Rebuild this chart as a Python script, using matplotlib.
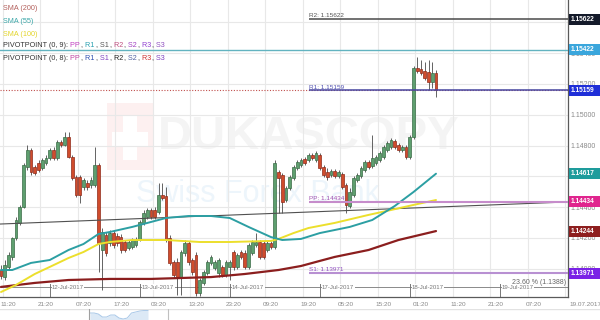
import matplotlib
matplotlib.use("Agg")
import matplotlib.pyplot as plt
from matplotlib.patches import Rectangle
import numpy as np

plt.rcParams['font.family'] = ['Liberation Sans', 'DejaVu Sans']

# ---------------- data (EUR/USD hourly candles) ----------------
opens = [1.13991, 1.13945, 1.14011, 1.14076, 1.14199, 1.14297, 1.14401, 1.14661, 1.14771, 1.14661,
         1.14687, 1.14654, 1.14687, 1.14719, 1.14771, 1.14719, 1.14823, 1.14804, 1.14856, 1.14726,
         1.14596, 1.14596, 1.14531, 1.14557, 1.14544, 1.14544, 1.14674, 1.14121, 1.14218, 1.14167,
         1.14231, 1.14212, 1.14205, 1.14173, 1.14134, 1.14141, 1.14154, 1.14186, 1.14297, 1.14336,
         1.14381, 1.14381, 1.14368, 1.14479, 1.14472, 1.14199, 1.14043, 1.14043, 1.13945, 1.14102,
         1.14167, 1.14056, 1.14089, 1.13841, 1.13907, 1.13971, 1.14037, 1.14004, 1.13971, 1.14011,
         1.13958, 1.14011, 1.14108, 1.14011, 1.14108, 1.14102, 1.14011, 1.14102, 1.14154, 1.14173,
         1.14167, 1.14121, 1.14167, 1.14141, 1.14628, 1.14609, 1.14446, 1.14524, 1.14589, 1.14654,
         1.14674, 1.14713, 1.14706, 1.14739, 1.14706, 1.14739, 1.14661, 1.14628, 1.14609, 1.14635,
         1.14602, 1.14615, 1.14544, 1.14407, 1.14479, 1.14576, 1.14602, 1.14641, 1.14693, 1.14667,
         1.14687, 1.14706, 1.14726, 1.14771, 1.14791, 1.14830, 1.14804, 1.14771, 1.14791, 1.14726,
         1.14856, 1.15304, 1.15298, 1.15285, 1.15278, 1.15213, 1.15272]
highs = [1.14024, 1.14056, 1.14108, 1.14205, 1.14336, 1.14414, 1.14687, 1.14804, 1.14784, 1.14674,
         1.14706, 1.14719, 1.14739, 1.14784, 1.14791, 1.14836, 1.14836, 1.14888, 1.14888, 1.14739,
         1.14609, 1.14609, 1.14589, 1.14576, 1.14596, 1.14791, 1.14687, 1.14264, 1.14238, 1.14251,
         1.14251, 1.14231, 1.14225, 1.14186, 1.14186, 1.14199, 1.14205, 1.14316, 1.14381, 1.14394,
         1.14394, 1.14401, 1.14557, 1.14557, 1.14531, 1.14218, 1.14056, 1.14069, 1.14121, 1.14186,
         1.14180, 1.14069, 1.14108, 1.13939, 1.13991, 1.14056, 1.14089, 1.14056, 1.14069, 1.14024,
         1.14056, 1.14056, 1.14121, 1.14102, 1.14121, 1.14121, 1.14167, 1.14186, 1.14231, 1.14186,
         1.14180, 1.14180, 1.14180, 1.14706, 1.14641, 1.14622, 1.14537, 1.14609, 1.14674, 1.14706,
         1.14719, 1.14726, 1.14752, 1.14752, 1.14765, 1.14752, 1.14674, 1.14654, 1.14648, 1.14648,
         1.14641, 1.14628, 1.14557, 1.14524, 1.14602, 1.14622, 1.14667, 1.14706, 1.14706, 1.14869,
         1.14739, 1.14765, 1.14804, 1.14830, 1.14849, 1.14843, 1.14817, 1.14804, 1.14804, 1.14869,
         1.15317, 1.15376, 1.15356, 1.15343, 1.15356, 1.15343, 1.15291]
lows = [1.13933, 1.13926, 1.13991, 1.14056, 1.14186, 1.14284, 1.14394, 1.14641, 1.14609, 1.14609,
        1.14628, 1.14641, 1.14674, 1.14706, 1.14706, 1.14706, 1.14791, 1.14797, 1.14719, 1.14576,
        1.14466, 1.14427, 1.14511, 1.14511, 1.14524, 1.14531, 1.13978, 1.13861, 1.14082, 1.14147,
        1.14134, 1.14147, 1.14102, 1.14108, 1.14121, 1.14128, 1.14141, 1.14180, 1.14284, 1.14323,
        1.14323, 1.14323, 1.14355, 1.14446, 1.14173, 1.14024, 1.13939, 1.13829, 1.13829, 1.14082,
        1.14024, 1.13958, 1.13822, 1.13822, 1.13894, 1.13958, 1.14024, 1.13991, 1.13945, 1.13945,
        1.13945, 1.13926, 1.13991, 1.13998, 1.14063, 1.13998, 1.13998, 1.14089, 1.14141, 1.14063,
        1.14063, 1.14108, 1.14128, 1.14128, 1.14362, 1.14362, 1.14433, 1.14511, 1.14576, 1.14641,
        1.14661, 1.14674, 1.14693, 1.14706, 1.14693, 1.14641, 1.14596, 1.14576, 1.14596, 1.14589,
        1.14589, 1.14518, 1.14362, 1.14394, 1.14466, 1.14563, 1.14589, 1.14628, 1.14648, 1.14654,
        1.14674, 1.14693, 1.14713, 1.14758, 1.14778, 1.14778, 1.14758, 1.14758, 1.14713, 1.14713,
        1.14843, 1.15272, 1.15259, 1.15226, 1.15161, 1.15174, 1.15116]
closes = [1.13952, 1.14024, 1.14089, 1.14199, 1.14316, 1.14401, 1.14674, 1.14771, 1.14628, 1.14622,
          1.14641, 1.14706, 1.14719, 1.14771, 1.14719, 1.14823, 1.14804, 1.14856, 1.14726, 1.14589,
          1.14479, 1.14479, 1.14576, 1.14531, 1.14576, 1.14674, 1.14167, 1.14238, 1.14102, 1.14231,
          1.14154, 1.14167, 1.14121, 1.14121, 1.14173, 1.14186, 1.14186, 1.14303, 1.14362, 1.14381,
          1.14336, 1.14336, 1.14479, 1.14459, 1.14186, 1.14037, 1.13958, 1.13945, 1.14108, 1.14167,
          1.14043, 1.13978, 1.13841, 1.13926, 1.13978, 1.14043, 1.14076, 1.14043, 1.14056, 1.13958,
          1.14043, 1.14043, 1.14011, 1.14089, 1.14076, 1.14011, 1.14154, 1.14173, 1.14173, 1.14076,
          1.14076, 1.14167, 1.14141, 1.14687, 1.14589, 1.14433, 1.14524, 1.14596, 1.14661, 1.14693,
          1.14706, 1.14687, 1.14739, 1.14719, 1.14752, 1.14654, 1.14609, 1.14596, 1.14635, 1.14602,
          1.14628, 1.14531, 1.14414, 1.14498, 1.14589, 1.14609, 1.14654, 1.14693, 1.14661, 1.14719,
          1.14726, 1.14752, 1.14791, 1.14817, 1.14836, 1.14791, 1.14771, 1.14791, 1.14726, 1.14856,
          1.15304, 1.15285, 1.15272, 1.15239, 1.15213, 1.15272, 1.15159]

sma55_idx = [0, 3, 8, 13, 18, 22, 26, 29, 35, 44, 50, 56, 61, 66, 72, 75, 80, 85, 93, 99, 105, 110, 116]
sma55_val = [1.13991, 1.13991, 1.14037, 1.14056, 1.14121, 1.14160, 1.14225, 1.14238, 1.14271, 1.14329,
             1.14342, 1.14342, 1.14329, 1.14271, 1.14205, 1.14186, 1.14193, 1.14231, 1.14271, 1.14316,
             1.14407, 1.14498, 1.14617]
sma100_idx = [0, 4, 9, 13, 18, 22, 26, 29, 35, 44, 53, 61, 72, 74, 78, 82, 89, 98, 104, 110, 116]
sma100_val = [1.13848, 1.13894, 1.13965, 1.14011, 1.14069, 1.14108, 1.14160, 1.14173, 1.14186, 1.14186,
              1.14173, 1.14173, 1.14180, 1.14193, 1.14231, 1.14264, 1.14297, 1.14349, 1.14381, 1.14414,
              1.14446]
sma200_idx = [0, 9, 18, 29, 40, 56, 65, 74, 80, 85, 89, 98, 106, 116]
sma200_val = [1.13881, 1.13907, 1.13926, 1.13933, 1.13933, 1.13945, 1.13965, 1.13991, 1.14017, 1.14050,
              1.14076, 1.14121, 1.14186, 1.14244]

time_labels = ["11:20", "21:20", "07:20", "17:20", "03:20", "13:20", "23:20", "09:20",
               "19:20", "05:20", "15:20", "01:20", "11:20", "21:20", "07:20"]
day_labels = ["12-Jul-2017", "13-Jul-2017", "14-Jul-2017", "17-Jul-2017", "18-Jul-2017", "19-Jul-2017"]
day_start_idx = [13, 37, 61, 85, 109, 133]
end_date_label = "19.07.2017"

pivot_names = ["R2", "R1", "PP", "S1"]
pivot_values = [1.15622, 1.15159, 1.14434, 1.13971]
pivot_start_idx = 82
prev_r1_level = 1.15422
last_price = 1.15159
fib_label = "23.60 % (1.1388)"
fib_level = 1.1388
trend_idx = [0, 116]
trend_val = [1.14290, 1.14400]

box_values = [1.15622, 1.15422, 1.15159, 1.14617, 1.14434, 1.14244, 1.13971]
ytick_values = [1.140, 1.142, 1.144, 1.148, 1.150, 1.152, 1.154]
grid_values = [1.140, 1.142, 1.144, 1.146, 1.148, 1.150, 1.152, 1.154, 1.156]
nav_vals = [7, 7, 6, 3, 3, 5, 5, 2, 1, 2, 7, 8, 9, 9.5, 9.5]

# ---------------- figure ----------------
W, H = 600, 320
fig = plt.figure(figsize=(6, 3.2), dpi=100)
fig.patch.set_facecolor('white')
ax = fig.add_axes([0, 23 / H, 568 / W, 297 / H])
XMIN, XMAX = -0.27, 151.2
YMIN, YMAX = 1.138155, 1.15746
ax.set_xlim(XMIN, XMAX)
ax.set_ylim(YMIN, YMAX)

# grid
for k in range(16):
    ax.axvline(0.5 + 10 * k, color='#e8e8e8', lw=0.8, zorder=1)
for y in grid_values:
    ax.axhline(y, color='#e8e8e8', lw=0.8, zorder=1)

# watermark
ax.add_artist(Rectangle((107 / W, 1 - 170 / H), 46 / W, 67 / H, transform=fig.transFigure,
                        facecolor='#fdf0f0', edgecolor='none', zorder=0.5))
ax.add_artist(Rectangle((123 / W, 1 - 160 / H), 14 / W, 45 / H, transform=fig.transFigure,
                        facecolor='white', edgecolor='none', zorder=0.6))
ax.add_artist(Rectangle((112 / W, 1 - 146 / H), 36 / W, 14 / H, transform=fig.transFigure,
                        facecolor='white', edgecolor='none', zorder=0.6))
ax.text(309 / W, 1 - 137 / H, "DUKASCOPY", transform=fig.transFigure, fontsize=34,
        fontweight='bold', color='#f4f4f4', ha='center', va='center', zorder=0.5)
ax.text(258 / W, 1 - 194 / H, "Swiss Forex Bank", transform=fig.transFigure, fontsize=22,
        color='#edf5fb', ha='center', va='center', zorder=0.5)

# fib line and day separators
ax.axhline(fib_level, color='#8a8a8a', lw=0.7, zorder=2)
ax.text(XMAX - 0.5, fib_level + 0.00004, fib_label, ha='right', va='bottom', fontsize=5,
        color='#666666', zorder=2.5)
for d, lab in zip(day_start_idx, day_labels):
    ax.axvline(d, ymin=0, ymax=13 / 297, color='#777777', lw=0.7, zorder=2)
    ax.text(d + 0.6, fib_level, lab, ha='left', va='center', fontsize=4.4, color='#777777',
            zorder=2.5, bbox=dict(facecolor='white', edgecolor='none', pad=0.2))

# trend line
ax.axline((trend_idx[0], trend_val[0]), (trend_idx[1], trend_val[1]), color='#505050', lw=0.8, zorder=5)

# candles
for i, (o, h, l, c) in enumerate(zip(opens, highs, lows, closes)):
    up = c >= o
    ax.vlines(i, l, h, color='#4a4a4a', lw=0.6, zorder=3)
    fc = '#5e9f6f' if up else '#d04c2c'
    ec = '#3a6c46' if up else '#8e2a1a'
    ax.add_patch(Rectangle((i - 0.37, min(o, c)), 0.74, max(abs(c - o), 0.00007),
                           facecolor=fc, edgecolor=ec, lw=0.5, zorder=4))

# moving averages
ax.plot(sma200_idx, sma200_val, color='#8b1e1e', lw=1.6, zorder=5, solid_capstyle='round')
ax.plot(sma100_idx, sma100_val, color='#ecdf2c', lw=1.4, zorder=5, solid_capstyle='round')
ax.plot(sma55_idx, sma55_val, color='#2c9fa3', lw=1.4, zorder=5, solid_capstyle='round')

# pivot lines
ax.axhline(prev_r1_level, color='#62b3c0', lw=1.0, zorder=6)
ax.axhline(last_price, color='#c0504d', lw=0.8, ls=(0, (1, 1.5)), zorder=6)
piv_line_col = {"R2": '#4a4a4a', "R1": '#4646a0', "PP": '#c68ccb', "S1": '#b890d2'}
piv_text_col = {"R2": '#555555', "R1": '#5050b0', "PP": '#a050b0', "S1": '#9050c0'}
piv_lw = {"R2": 1.1, "R1": 1.1, "PP": 1.5, "S1": 1.5}
for name, val in zip(pivot_names, pivot_values):
    ax.hlines(val, pivot_start_idx, XMAX, color=piv_line_col[name], lw=piv_lw[name], zorder=6)
    ax.text(pivot_start_idx + 0.2, val + 0.00005, f"{name}: {val:.5f}", ha='left', va='bottom',
            fontsize=4.6, color=piv_text_col[name], zorder=6)

# axes styling
ax.yaxis.tick_right()
ax.set_yticks(ytick_values)
ax.set_yticklabels([f"{t:.5f}" for t in ytick_values])
ax.tick_params(axis='y', length=0, pad=1.5, labelsize=5, labelcolor='#8a8a8a')
ax.set_xticks([2 + 10 * k for k in range(len(time_labels))])
ax.set_xticklabels(time_labels)
ax.tick_params(axis='x', length=0, pad=3.5, labelsize=4.6, labelcolor='#888888')
for s in ['top', 'left']:
    ax.spines[s].set_visible(False)
for s in ['right', 'bottom']:
    ax.spines[s].set_color('#5a5a5a')
    ax.spines[s].set_linewidth(0.9)
fig.text(585 / W, 1 - 304 / H, end_date_label, ha='center', va='center', fontsize=4.6, color='#888888')

# price boxes on the right axis
box_colors = ['#141a2a', '#3aa6dc', '#1f2fd8', '#1e9c9c', '#e0258e', '#8e1f1f', '#7a22e6']
fig.canvas.draw()
for p, col in zip(box_values, box_colors):
    yc = ax.transData.transform((0, p))[1] / fig.bbox.height
    fig.add_artist(Rectangle((569 / W, yc - 5.5 / H), 31 / W, 11 / H, transform=fig.transFigure,
                             facecolor=col, edgecolor='none', zorder=5))
    fig.text(571 / W, yc, f"{p:.5f}", color='white', fontsize=4.8, fontweight='bold',
             ha='left', va='center', zorder=6)

# legend (top-left)
renderer = fig.canvas.get_renderer()


def rich(x_px, y_px, parts, size=5.2):
    x = x_px
    for s, col in parts:
        t = fig.text(x / W, 1 - y_px / H, s, color=col, fontsize=size, ha='left', va='center', zorder=7)
        x += t.get_window_extent(renderer).width + 0.5


dk = '#333333'
rich(3, 8.5, [("SMA (200)", '#b3605c')])
rich(3, 21.5, [("SMA (55)", '#3aa6a8')])
rich(3, 34, [("SMA (100)", '#e3d52a')])
rich(3, 45.5, [("PIVOTPOINT (0, 9):", dk), (" PP", '#c03cc0'), (",", dk), (" R1", '#2aa0b0'), (",", dk),
               (" S1", '#555555'), (",", dk), (" R2", '#c05080'), (",", dk), (" S2", '#a040c0'), (",", dk),
               (" R3", '#9040d0'), (",", dk), (" S3", '#9050c0')])
rich(3, 58.5, [("PIVOTPOINT (0, 8):", dk), (" PP", '#c040a0'), (",", dk), (" R1", '#3050b0'), (",", dk),
               (" S1", '#8040c0'), (",", dk), (" R2", '#222222'), (",", dk), (" S2", '#5060a0'), (",", dk),
               (" R3", '#d03030'), (",", dk), (" S3", '#8040c0')])

# navigator strip
nav = fig.add_axes([0, 0, 1, 11 / H])
nav.set_xlim(0, W)
nav.set_ylim(0, 11)
nav.axis('off')
nav.axhline(11, color='#e2e2e2', lw=1.0)
nx = np.linspace(90, 148, len(nav_vals))
nav.fill_between(nx, 0, nav_vals, color='#dce9f6', lw=0)
nav.plot(nx, nav_vals, color='#a9c8e8', lw=0.7)
nav.axvline(89, color='#a0a0a0', lw=0.8)
nav.axvline(168, color='#c0c0c0', lw=0.8)

fig.savefig("out.png", dpi=100)
